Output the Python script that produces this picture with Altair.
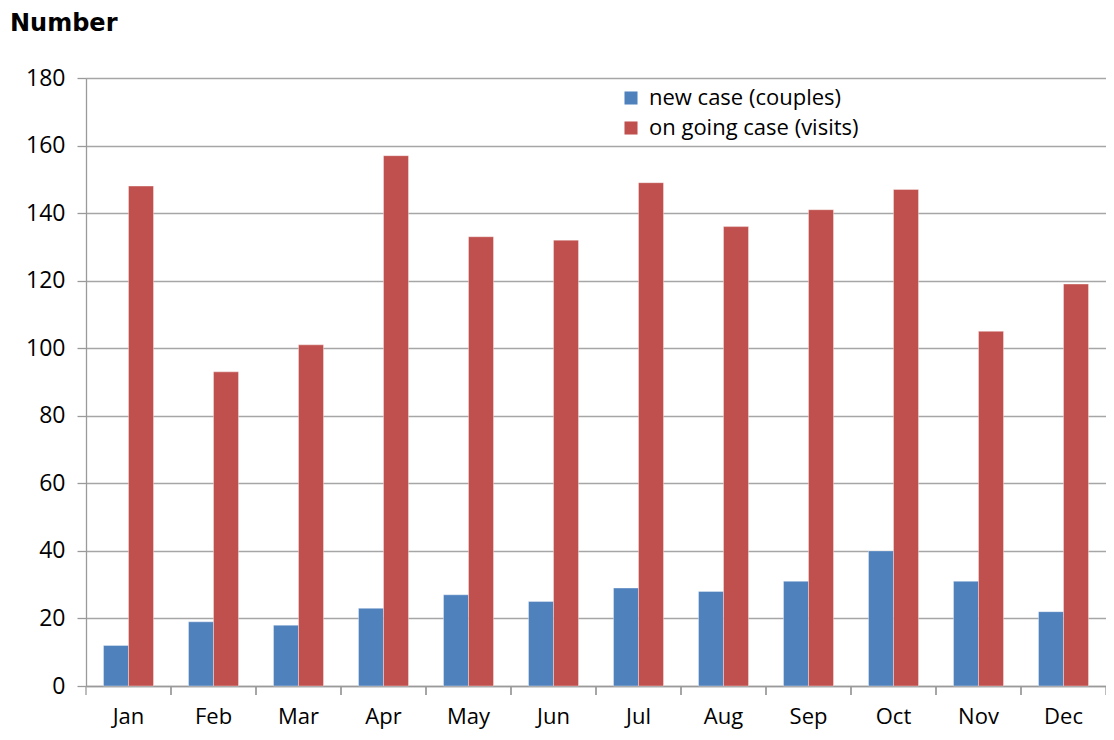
import altair as alt
import pandas as pd

months = ["Jan", "Feb", "Mar", "Apr", "May", "Jun", "Jul", "Aug", "Sep", "Oct", "Nov", "Dec"]
new_case = [12, 19, 18, 23, 27, 25, 29, 28, 31, 40, 31, 22]
ongoing_case = [148, 93, 101, 157, 133, 132, 149, 136, 141, 147, 105, 119]
series = ["new case (couples)", "on going case (visits)"]
colors = ["#4F81BD", "#C0504D"]

rows = []
for i, m in enumerate(months):
    rows.append({"month": m, "series": series[0], "value": new_case[i]})
    rows.append({"month": m, "series": series[1], "value": ongoing_case[i]})
df = pd.DataFrame(rows)
mdf = pd.DataFrame({"month": months})

W, H = 1020, 608
FONT = "Open Sans"
GRAY = "#9a9a9a"

xscale = alt.Scale(domain=months, paddingInner=0, paddingOuter=0)

bars = alt.Chart(df).mark_bar(stroke="white", strokeWidth=0.6, strokeOpacity=0.6).encode(
    x=alt.X("month:N", sort=months, scale=xscale,
            axis=alt.Axis(title=None, labelAngle=0, labelFontSize=22, labelFont=FONT,
                          labelColor="#000000", labelPadding=20, ticks=False,
                          domainColor=GRAY, domainWidth=1.3, grid=False)),
    xOffset=alt.XOffset("series:N", sort=series,
                        scale=alt.Scale(paddingInner=0, paddingOuter=0.7)),
    y=alt.Y("value:Q", scale=alt.Scale(domain=[0, 180], nice=False),
            axis=alt.Axis(title=None, values=list(range(0, 181, 20)), labelFontSize=23,
                          labelFont=FONT, labelColor="#000000", labelPadding=12,
                          tickSize=9, tickColor=GRAY, domainColor=GRAY,
                          tickWidth=1.3, domainWidth=1.3, grid=True, gridColor="#a6a6a6",
                          gridWidth=1.3)),
    color=alt.Color("series:N", sort=series,
                    scale=alt.Scale(domain=series, range=colors),
                    legend=alt.Legend(title=None, orient="none", legendX=534, legendY=9,
                                      symbolType="square", symbolSize=170, symbolStrokeWidth=0,
                                      labelFontSize=22, labelFont=FONT, labelColor="#000000",
                                      labelLimit=0, rowPadding=8, labelOffset=7)),
)

ticks_start = alt.Chart(mdf).mark_rule(color=GRAY, strokeWidth=1.3).encode(
    x=alt.X("month:N", sort=months, bandPosition=0),
    y=alt.value(H), y2=alt.value(H + 9),
)
ticks_end = alt.Chart(mdf).mark_rule(color=GRAY, strokeWidth=1.3).encode(
    x=alt.X("month:N", sort=months, bandPosition=1),
    y=alt.value(H), y2=alt.value(H + 9),
)

chart = alt.layer(bars, ticks_start, ticks_end).properties(
    width=W, height=H,
    title=alt.TitleParams("Number", anchor="start", frame="group", dx=-76, offset=31,
                          fontSize=24, font="DejaVu Sans", fontWeight="bold", color="#000000"),
    autosize=alt.AutoSizeParams(type="none"),
    padding={"left": 78, "top": 70, "right": 0, "bottom": 46},
).configure_view(stroke=None).configure(background="white")

chart.save("out.html", embed_options={"renderer": "svg", "actions": False})
